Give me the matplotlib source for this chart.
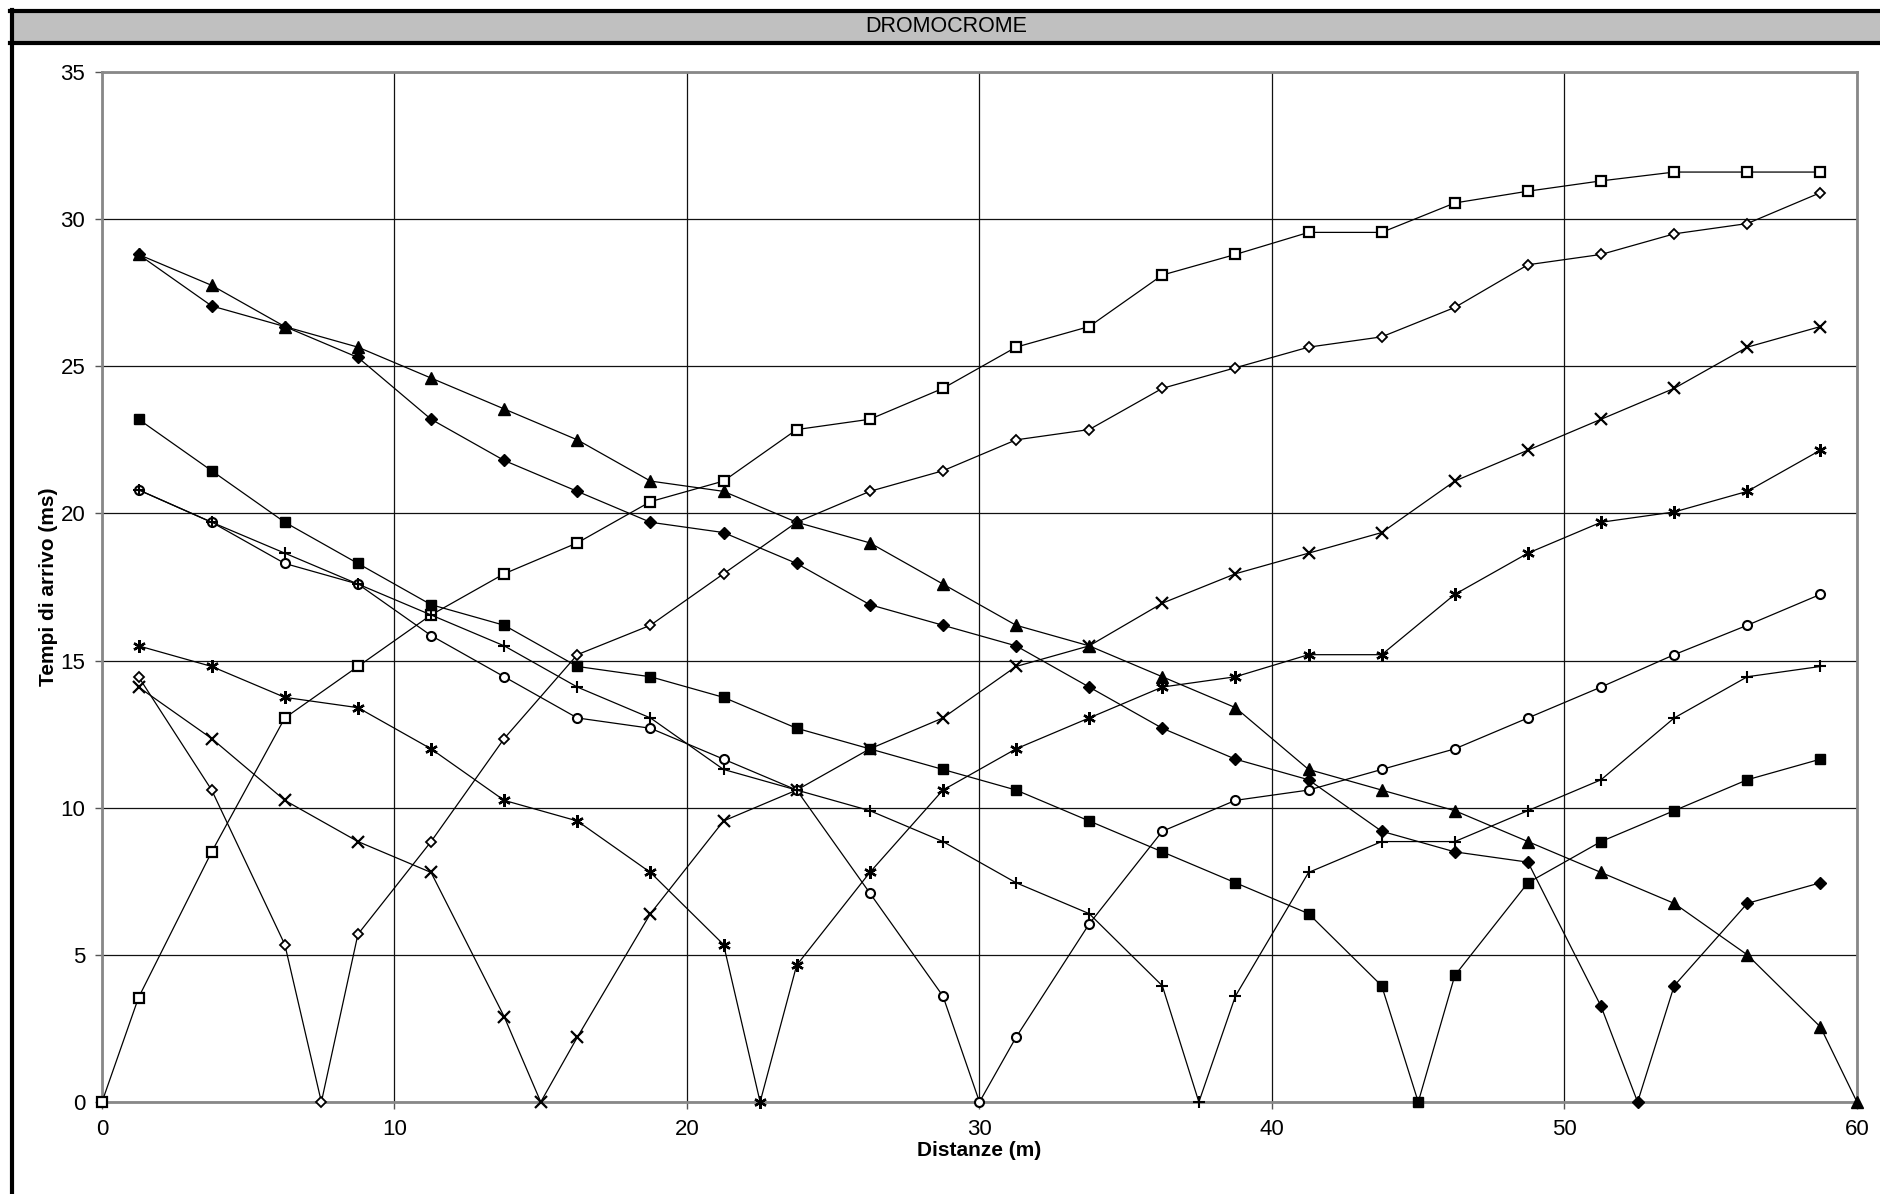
import numpy as np
import matplotlib
matplotlib.use("Agg")
import matplotlib.pyplot as plt
from matplotlib.patches import Rectangle
from matplotlib.lines import Line2D

plt.rcParams['font.family'] = ['Liberation Sans', 'DejaVu Sans']

# geophone positions (m) and shot positions (m)
geofoni = [1.25 + 2.5 * i for i in range(24)]
scoppi = [0, 7.5, 15, 22.5, 30, 37.5, 45, 52.5, 60]

# arrival times (ms) at each geophone, one list per shot
t_0 = [3.55, 8.5, 13.05, 14.8, 16.55, 17.95, 19.0, 20.4, 21.1, 22.85, 23.2, 24.25,
       25.65, 26.35, 28.1, 28.8, 29.55, 29.55, 30.55, 30.95, 31.3, 31.6, 31.6, 31.6]
t_7 = [14.45, 10.6, 5.35, 5.7, 8.85, 12.35, 15.2, 16.2, 17.95, 19.7, 20.75, 21.45,
       22.5, 22.85, 24.25, 24.95, 25.65, 26.0, 27.0, 28.45, 28.8, 29.5, 29.85, 30.9]
t_15 = [14.1, 12.35, 10.25, 8.85, 7.8, 2.9, 2.2, 6.4, 9.55, 10.6, 12.0, 13.05,
        14.8, 15.5, 16.95, 17.95, 18.65, 19.35, 21.1, 22.15, 23.2, 24.25, 25.65, 26.35]
t_22 = [15.5, 14.8, 13.75, 13.4, 12.0, 10.25, 9.55, 7.8, 5.35, 4.65, 7.8, 10.6,
        12.0, 13.05, 14.1, 14.45, 15.2, 15.2, 17.25, 18.65, 19.7, 20.05, 20.75, 22.15]
t_30 = [20.8, 19.7, 18.3, 17.6, 15.85, 14.45, 13.05, 12.7, 11.65, 10.6, 7.1, 3.6,
        2.2, 6.05, 9.2, 10.25, 10.6, 11.3, 12.0, 13.05, 14.1, 15.2, 16.2, 17.25]
t_37 = [20.8, 19.7, 18.65, 17.6, 16.55, 15.5, 14.1, 13.05, 11.3, 10.6, 9.9, 8.85,
        7.45, 6.4, 3.95, 3.6, 7.8, 8.85, 8.85, 9.9, 10.95, 13.05, 14.45, 14.8]
t_45 = [23.2, 21.45, 19.7, 18.3, 16.9, 16.2, 14.8, 14.45, 13.75, 12.7, 12.0, 11.3,
        10.6, 9.55, 8.5, 7.45, 6.4, 3.95, 4.3, 7.45, 8.85, 9.9, 10.95, 11.65]
t_52 = [28.8, 27.05, 26.35, 25.3, 23.2, 21.8, 20.75, 19.7, 19.35, 18.3, 16.9, 16.2,
        15.5, 14.1, 12.7, 11.65, 10.95, 9.2, 8.5, 8.15, 3.25, 3.95, 6.75, 7.45]
t_60 = [28.8, 27.75, 26.35, 25.65, 24.6, 23.55, 22.5, 21.1, 20.75, 19.7, 19.0, 17.6,
        16.2, 15.5, 14.45, 13.4, 11.3, 10.6, 9.9, 8.85, 7.8, 6.75, 5.0, 2.55]

tempi = [t_0, t_7, t_15, t_22, t_30, t_37, t_45, t_52, t_60]

# marker style per shot (Excel-like black markers)
stili = [
    dict(marker='s', mfc='white', ms=7, mew=1.6),
    dict(marker='D', mfc='white', ms=5.5, mew=1.3),
    dict(marker='x', mfc='black', ms=8, mew=1.6),
    dict(marker=(6, 2, 0), mfc='black', ms=9, mew=1.7),
    dict(marker='o', mfc='white', ms=6.5, mew=1.5),
    dict(marker='+', mfc='black', ms=9, mew=1.5),
    dict(marker='s', mfc='black', ms=7.5, mew=1),
    dict(marker='D', mfc='black', ms=6.5, mew=1),
    dict(marker='^', mfc='black', ms=8, mew=1),
]

W, H = 1881, 1194
fig = plt.figure(figsize=(W / 100, H / 100), dpi=100)
fig.patch.set_facecolor('white')

# title band with black frame
fig.patches.append(Rectangle((12 / W, 1 - 42 / H), 1, 31 / H, transform=fig.transFigure,
                             facecolor='#c0c0c0', edgecolor='none', zorder=0))
fig.add_artist(Line2D([11.5 / W, 11.5 / W], [0, 1 - 10 / H], transform=fig.transFigure,
                      color='black', lw=3))
fig.add_artist(Line2D([10 / W, 1], [1 - 11 / H, 1 - 11 / H], transform=fig.transFigure,
                      color='black', lw=3))
fig.add_artist(Line2D([10 / W, 1], [1 - 42.5 / H, 1 - 42.5 / H], transform=fig.transFigure,
                      color='black', lw=3))
fig.text(0.5 * (12 + W) / W, 1 - 27 / H, 'DROMOCROME', ha='center', va='center', fontsize=15.5)

ax = fig.add_axes([102 / W, 1 - 1102 / H, (1857 - 102) / W, (1102 - 72) / H])

for s, t, st in zip(scoppi, tempi, stili):
    x = np.array(geofoni)
    y = np.array(t)
    k = np.searchsorted(x, s)
    x = np.insert(x, k, s)
    y = np.insert(y, k, 0)
    ax.plot(x, y, color='black', lw=0.9, mec='black', clip_on=False, zorder=3, **st)

ax.set_xlim(0, 60)
ax.set_ylim(0, 35)
ax.set_xticks(np.arange(0, 61, 10))
ax.set_yticks(np.arange(0, 36, 5))
ax.grid(True, color='#111111', lw=0.9)
ax.set_axisbelow(True)
for sp in ax.spines.values():
    sp.set_color('#888888')
    sp.set_linewidth(2)
ax.tick_params(direction='out', length=5, width=1, color='#555555', labelsize=16, pad=7)
ax.set_xlabel('Distanze (m)', fontsize=15, fontweight='bold', labelpad=1)
ax.set_ylabel('Tempi di arrivo (ms)', fontsize=15, fontweight='bold', labelpad=2)

fig.savefig('out.png', dpi=100)
